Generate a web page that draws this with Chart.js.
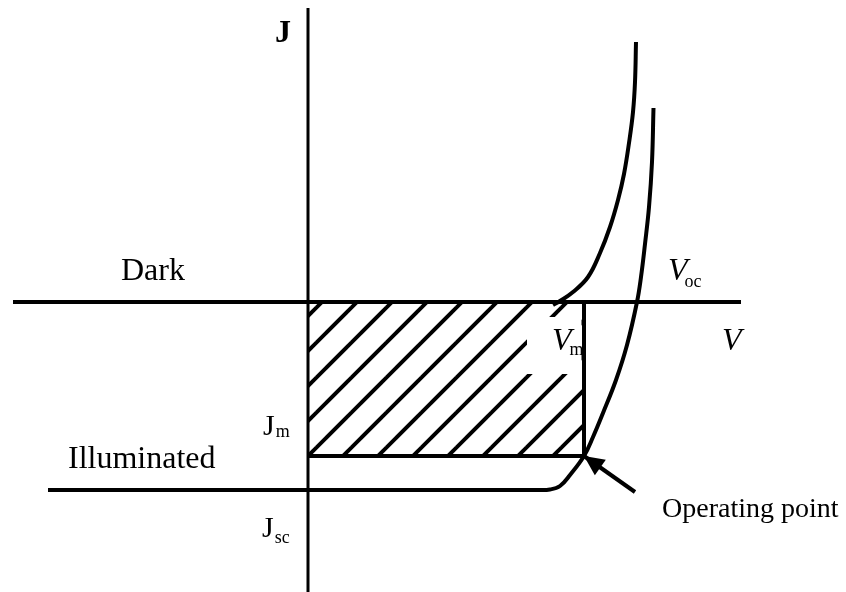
<!DOCTYPE html>
<html>
<head>
<meta charset="utf-8">
<title>J-V</title>
<script src="https://cdn.jsdelivr.net/npm/chart.js@4/dist/chart.umd.min.js"></script>
<style>
	html, body { margin: 0; padding: 0; background: white; }
	canvas { display: block; }
</style>
</head>
<body>
<canvas id="Chart" width="846" height="592"></canvas>
<script>
// dark curve (V, J)
var darkV = [2.45, 2.52, 2.65, 2.80, 2.92, 3.02, 3.10, 3.16, 3.21, 3.25, 3.27, 3.28];
var darkJ = [-0.03, 0.01, 0.10, 0.25, 0.49, 0.75, 1.02, 1.28, 1.59, 1.90, 2.20, 2.60];

// illuminated curve (V, J)
var lightV = [-2.60, 2.30, 2.42, 2.52, 2.62, 2.76, 2.85, 2.95, 3.08, 3.19, 3.29, 3.33, 3.37, 3.41, 3.44, 3.455];
var lightJ = [-1.88, -1.88, -1.875, -1.84, -1.73, -1.54, -1.35, -1.11, -0.78, -0.43, 0, 0.25, 0.58, 0.95, 1.40, 1.94];

// operating point and intercepts
var Vm = 2.76, Jm = -1.54;
var Voc = 3.29, Jsc = -1.88;

// extent of the drawn axes
var vAxis = [-2.95, 4.33];
var jAxis = [-2.90, 2.94];

// arrow tail towards the operating point
var arrowTail = [3.27, -1.90];

function points(xs, ys)
{
	return xs.map(function (v, i) { return {x: v, y: ys[i]}; });
}

function hatch()
{
	var tile = document.createElement('canvas');
	tile.width = 35;
	tile.height = 35;
	var c = tile.getContext('2d');
	c.strokeStyle = 'black';
	c.lineWidth = 4;
	[-6, 29, 64].forEach(function (k)
	{
		c.beginPath();
		c.moveTo(k + 12, -12);
		c.lineTo(-12, k + 12);
		c.stroke();
	});
	return c.createPattern(tile, 'repeat');
}

var line = function (data, extra)
{
	var d = {
		data: data,
		borderColor: 'black',
		borderWidth: 4,
		pointRadius: 0,
		fill: false,
		clip: false
	};
	return Object.assign(d, extra || {});
};

var annotate = {
	id: 'annotate',
	afterDatasetsDraw: function (chart)
	{
		var ctx = chart.ctx;
		var sx = chart.scales.x, sy = chart.scales.y;
		var x0 = sx.getPixelForValue(0), y0 = sy.getPixelForValue(0);
		var xm = sx.getPixelForValue(Vm), ym = sy.getPixelForValue(Jm);
		var xoc = sx.getPixelForValue(Voc), ysc = sy.getPixelForValue(Jsc);

		ctx.save();

		// clear the hatching behind the Vm label
		ctx.fillStyle = 'white';
		ctx.fillRect(xm - 57, y0 + 15, 54.5, 57);

		// arrow head at the operating point
		var tx = sx.getPixelForValue(arrowTail[0]), ty = sy.getPixelForValue(arrowTail[1]);
		var a = Math.atan2(ym - ty, xm - tx);
		var len = 20, half = 9.5;
		ctx.fillStyle = 'black';
		ctx.beginPath();
		ctx.moveTo(xm, ym);
		ctx.lineTo(xm - len * Math.cos(a) + half * Math.sin(a), ym - len * Math.sin(a) - half * Math.cos(a));
		ctx.lineTo(xm - len * Math.cos(a) - half * Math.sin(a), ym - len * Math.sin(a) + half * Math.cos(a));
		ctx.closePath();
		ctx.fill();

		ctx.textBaseline = 'alphabetic';
		ctx.textAlign = 'left';

		var serif = '"Liberation Serif", "Times New Roman", serif';
		var text = function (s, x, y, font)
		{
			ctx.font = font + ' ' + serif;
			ctx.fillText(s, x, y);
			return x + ctx.measureText(s).width;
		};
		var sub = function (main, low, x, y, font, dx, dy)
		{
			var end = text(main, x, y, font);
			text(low, end + dx, y + dy, '18px');
		};

		text('J', x0 - 33, sy.getPixelForValue(jAxis[1]) + 34, 'bold 32px');
		text('Dark', 121, y0 - 22, '32px');
		text('Illuminated', 68, ysc - 22, '32px');
		text('Operating point', 662, ysc + 27, '28px');
		text('V', sx.getPixelForValue(vAxis[1]) - 19, y0 + 48, 'italic 32px');
		sub('J', 'm', x0 - 45, ym - 21, '30px', 1, 2);
		sub('J', 'sc', x0 - 46, ysc + 47, '30px', 1, 6);
		sub('V', 'oc', xoc + 31, y0 - 22, 'italic 32px', -3, 7);
		sub('V', 'm', xm - 32, y0 + 48, 'italic 32px', -2, 5);

		ctx.restore();
	}
};

var chart = new Chart(document.getElementById('Chart'), {
	type: 'line',
	data: {
		datasets: [
			line(points([0, Vm], [Jm, Jm]), {fill: 'origin', backgroundColor: hatch(), order: 5}),
			line(points([Vm, Vm], [0, Jm])),
			line(points(vAxis, [0, 0]), {borderWidth: 4}),
			line(points([0, 0], jAxis), {borderWidth: 3}),
			line(points(darkV, darkJ), {tension: 0.4}),
			line(points(lightV, lightJ), {tension: 0.4}),
			line(points([arrowTail[0], Vm], [arrowTail[1], Jm]))
		]
	},
	options: {
		responsive: false,
		animation: false,
		events: [],
		layout: {padding: 0},
		plugins: {legend: {display: false}, tooltip: {enabled: false}},
		scales: {
			x: {type: 'linear', min: -3.08, max: 5.38, display: false},
			y: {type: 'linear', min: -2.90, max: 3.02, display: false}
		}
	},
	plugins: [annotate]
});
</script>
</body>
</html>
